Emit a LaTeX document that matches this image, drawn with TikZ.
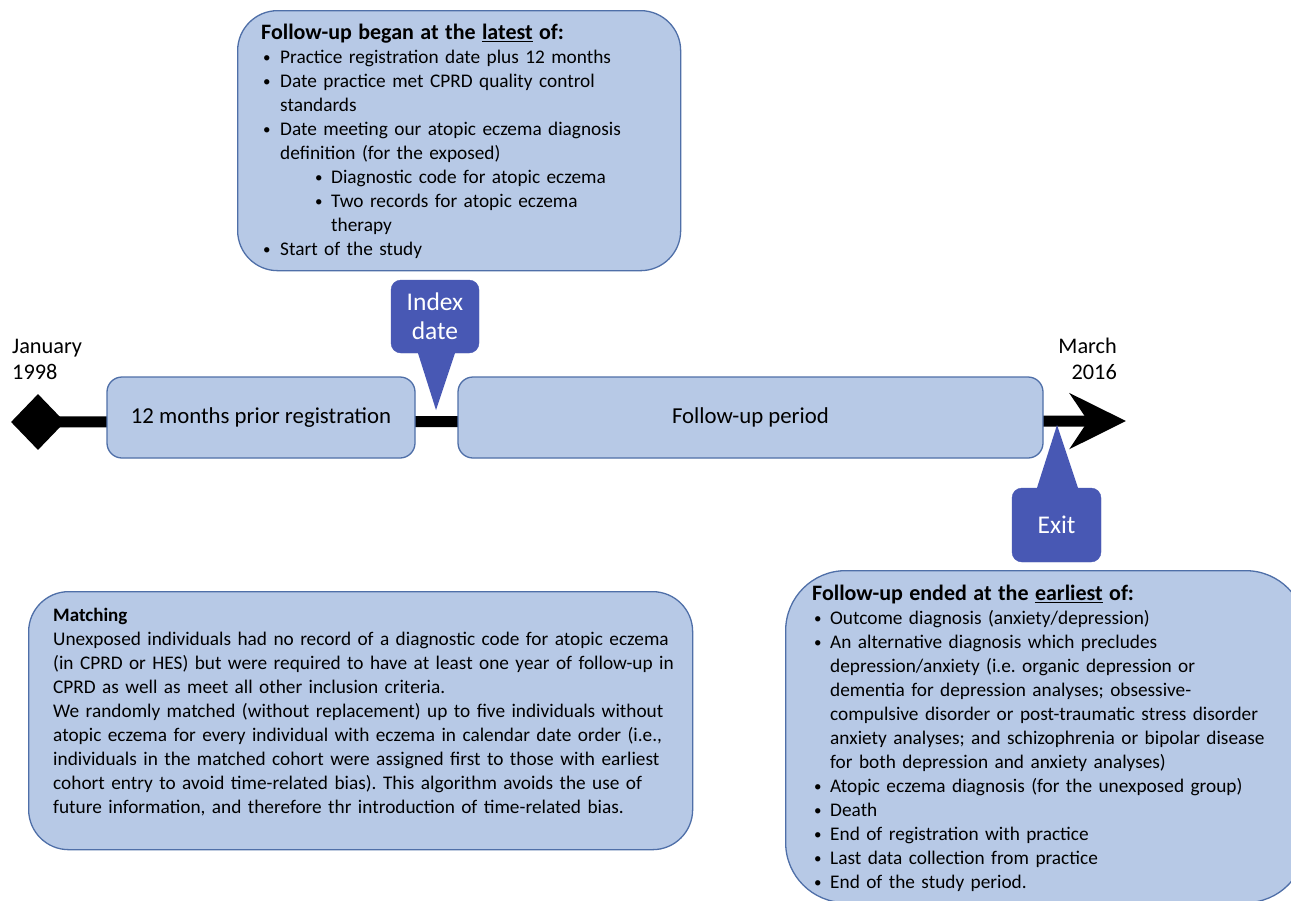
\documentclass[tikz,border=0pt]{standalone}
\usepackage{fontspec}
\setmainfont{Carlito}
\usetikzlibrary{shapes.geometric,arrows.meta}
\definecolor{boxfill}{HTML}{B7C9E6}
\definecolor{boxline}{HTML}{4F6FA8}
\definecolor{calloutc}{HTML}{4858B4}
\newcommand{\bdot}{\raisebox{1pt}{\fontsize{15}{15}\selectfont •}}
\newcommand{\bul}{\noindent\hangindent=19pt\hangafter=1\makebox[19pt][l]{\hspace{2pt}\bdot}}
\newcommand{\bulr}{\noindent\hangindent=18pt\hangafter=1\makebox[18pt][l]{\hspace{2pt}\bdot}}
\newcommand{\subbul}{\noindent\hangindent=70pt\hangafter=1\makebox[70pt][l]{\hspace{54pt}\bdot}}
\tikzset{
  panel/.style={draw=boxline, fill=boxfill, line width=1.3pt, inner sep=0pt},
  bigpanel/.style={panel, rounded corners=40pt},
  stagebox/.style={panel, rounded corners=15pt, font=\fontsize{22.8}{26}\selectfont},
  txt/.style={inner sep=0pt, align=left, font=\fontsize{19.3}{24}\selectfont\frenchspacing},
  callbox/.style={fill=calloutc, draw=calloutc, rounded corners=10pt, inner sep=0pt, text=white, align=center, font=\fontsize{25.5}{29}\selectfont},
  bar/.style={line width=11pt, black},
  datelbl/.style={inner sep=0pt, font=\fontsize{22.3}{26}\selectfont}
}
\begin{document}
\begin{tikzpicture}[x=1pt,y=-1pt]
\clip (0,0) rectangle (1291,900);
\fill[white] (0,0) rectangle (1291,900);

% timeline
\node[diamond, fill=black, minimum width=54pt, minimum height=56pt, inner sep=0pt] (start) at (38,422) {};
\coordinate (end) at (1126,421);
\draw[bar, -{Stealth[length=56pt, width=55pt, inset=18pt]}] (start.center) -- (end);

% stage boxes
\node[stagebox, minimum width=308pt, minimum height=81pt] (prior) at (261,417.5) {12 months prior registration};
\node[stagebox, minimum width=585pt, minimum height=81pt] (fup) at (750.5,417.5) {Follow-up period};

% date labels
\node[datelbl, anchor=north west, align=left] (jan) at (12,338.8) {January\\1998};
\node[datelbl, anchor=north east, align=right] (mar) at (1117,337.8) {March\\2016};

% index date callout
\node[callbox, minimum width=88pt, minimum height=73pt] (index) at (435,316.5) {Index\\date};
\coordinate (indextip) at (436,410);
\fill[calloutc] ([xshift=-17pt]index.south) -- (indextip) -- ([xshift=20pt]index.south) -- cycle;

% exit callout
\node[callbox, minimum width=89pt, minimum height=74pt] (exit) at (1056.5,525) {Exit};
\coordinate (exittip) at (1057,425);
\fill[calloutc] ([xshift=-19.5pt]exit.north) -- (exittip) -- ([xshift=21.5pt]exit.north) -- cycle;

% top box
\node[bigpanel, minimum width=443pt, minimum height=260pt, anchor=north west] (startbox) at (237,10) {};
\node[txt, anchor=north west, text width=420pt] (starttext) at (261,22.2) {%
\strut{\bfseries\fontsize{22}{24}\selectfont Follow-up began at the \underline{latest} of:}\par
\bul Practice registration date plus 12 months\par
\bul Date practice met CPRD quality control\newline standards\par
\bul Date meeting our atopic eczema diagnosis\newline definition (for the exposed)\par
\subbul Diagnostic code for atopic eczema\par
\subbul Two records for atopic eczema\newline therapy\par
\bul Start of the study};

% matching box
\node[bigpanel, minimum width=664pt, minimum height=258pt, anchor=north west] (matchbox) at (28,591) {};
\node[txt, anchor=north west, text width=636pt] (matchtext) at (53,604.2) {%
\strut{\bfseries\fontsize{19}{24}\selectfont Matching}\par
\noindent Unexposed individuals had no record of a diagnostic code for atopic eczema\newline
(in CPRD or HES) but were required to have at least one year of follow-up in\newline
CPRD as well as meet all other inclusion criteria.\newline
We randomly matched (without replacement) up to five individuals without\newline
atopic eczema for every individual with eczema in calendar date order (i.e.,\newline
individuals in the matched cohort were assigned first to those with earliest\newline
cohort entry to avoid time-related bias). This algorithm avoids the use of\newline
future information, and therefore thr introduction of time-related bias.};

% end box
\node[bigpanel, minimum width=520pt, minimum height=332pt, anchor=north west, rounded corners=60pt] (endbox) at (785,570) {};
\node[txt, anchor=north west, text width=475pt] (endtext) at (812,583.2) {%
\strut{\bfseries\fontsize{22}{24}\selectfont Follow-up ended at the \underline{earliest} of:}\par
\bulr Outcome diagnosis (anxiety/depression)\par
\bulr An alternative diagnosis which precludes\newline depression/anxiety (i.e. organic depression or\newline dementia for depression analyses; obsessive-\newline compulsive disorder or post-traumatic stress disorder\newline anxiety analyses; and schizophrenia or bipolar disease\newline for both depression and anxiety analyses)\par
\bulr Atopic eczema diagnosis (for the unexposed group)\par
\bulr Death\par
\bulr End of registration with practice\par
\bulr Last data collection from practice\par
\bulr End of the study period.};
\end{tikzpicture}
\end{document}
